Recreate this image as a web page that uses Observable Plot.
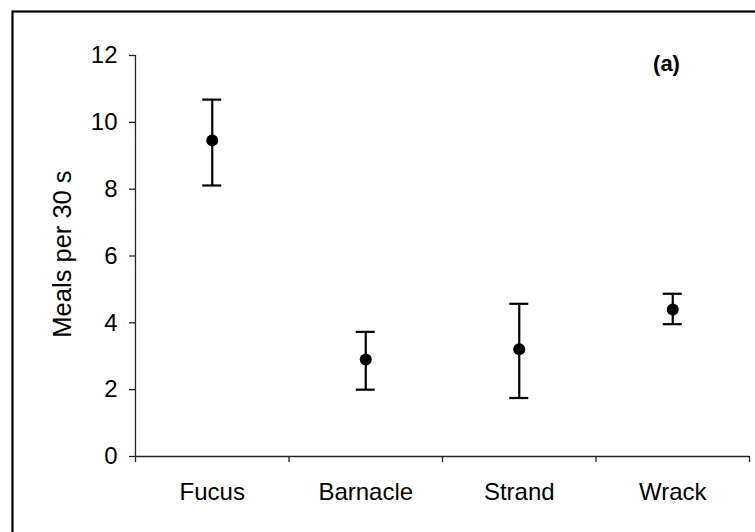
<!DOCTYPE html>
<html>
<head>
<meta charset="utf-8">
<script src="https://cdn.jsdelivr.net/npm/d3@7"></script>
<script src="https://cdn.jsdelivr.net/npm/@observablehq/plot@0.6"></script>
<style>
  html, body { margin: 0; padding: 0; background: #fff; }
  #chart svg { display: block; }
</style>
</head>
<body>
<div id="chart"></div>
<script>
const categories = ["Fucus", "Barnacle", "Strand", "Wrack"];
const means = [9.46, 2.90, 3.21, 4.40];
const upper = [10.68, 3.73, 4.57, 4.87];
const lower = [8.11, 2.00, 1.75, 3.96];
const yTicks = [0, 2, 4, 6, 8, 10, 12];
const panelLabel = "(a)";
const yLabel = "Meals per 30 s";

const data = categories.map((c, i) => ({
  cat: c, pos: i + 0.5, mean: means[i], hi: upper[i], lo: lower[i]
}));
const boundaries = d3.range(categories.length + 1);
const centers = categories.map((c, i) => i + 0.5);

const font = "Liberation Sans, Arial, sans-serif";

const plot = Plot.plot({
  width: 755,
  height: 532,
  marginLeft: 135,
  marginRight: 6,
  marginTop: 55,
  marginBottom: 76,
  style: { fontFamily: font, fontSize: "24px", color: "#000", background: "#fff" },
  x: { type: "linear", domain: [0, categories.length] },
  y: { domain: [0, 12] },
  marks: [
    Plot.ruleX([0], { stroke: "#222", strokeWidth: 1.3 }),
    Plot.ruleY([0], { stroke: "#222", strokeWidth: 1.3 }),
    Plot.axisY({
      ticks: yTicks, tickSize: 6, tickPadding: 12, tickFormat: d => d,
      label: null, fontSize: 24, stroke: "#222", strokeWidth: 1.3
    }),
    Plot.axisX({
      ticks: boundaries, tickSize: 6, tickFormat: () => "", label: null,
      stroke: "#222", strokeWidth: 1.3
    }),
    Plot.axisX({
      ticks: centers, tickSize: 0, tickPadding: 26,
      tickFormat: d => categories[Math.round(d - 0.5)], label: null, fontSize: 24
    }),
    Plot.text([yLabel], {
      frameAnchor: "left", dx: -73, dy: -2, rotate: -90,
      fontSize: 25.5, lineAnchor: "middle", textAnchor: "middle", fill: "#000"
    }),
    Plot.text([panelLabel], {
      frameAnchor: "top-right", dx: -83, dy: 8,
      fontSize: 22, fontWeight: "bold", textAnchor: "middle", lineAnchor: "middle", fill: "#000"
    }),
    Plot.ruleX(data, { x: "pos", y1: "lo", y2: "hi", stroke: "#000", strokeWidth: 2.2 }),
    Plot.ruleY(data, { x1: "pos", x2: "pos", y: "hi", insetLeft: -9.5, insetRight: -9.5, stroke: "#000", strokeWidth: 2.2 }),
    Plot.ruleY(data, { x1: "pos", x2: "pos", y: "lo", insetLeft: -9.5, insetRight: -9.5, stroke: "#000", strokeWidth: 2.2 }),
    Plot.dot(data, { x: "pos", y: "mean", r: 6, fill: "#000", stroke: "none" })
  ]
});

d3.select(plot).append("rect")
  .attr("x", 12.5).attr("y", 11.5)
  .attr("width", 800).attr("height", 600)
  .attr("fill", "none").attr("stroke", "#000").attr("stroke-width", 2.2);

document.getElementById("chart").appendChild(plot);
</script>
</body>
</html>
